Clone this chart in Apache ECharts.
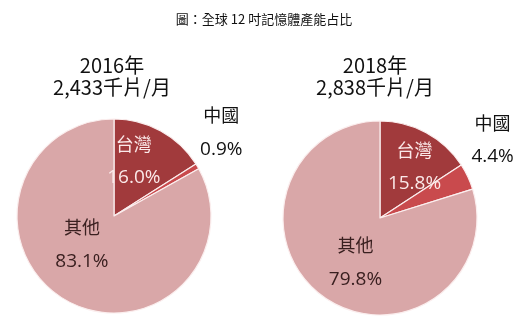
<!DOCTYPE html>
<html>
<head>
<meta charset="utf-8">
<script src="https://cdn.jsdelivr.net/npm/echarts@6/dist/echarts.min.js"></script>
<style>
  html, body { margin: 0; padding: 0; background: #ffffff; }
  #chart { width: 530px; height: 331px; }
</style>
</head>
<body>
<div id="chart"></div>
<script>
// Share of global 12-inch memory wafer capacity
const regions = ['台灣', '中國', '其他'];
const share2016 = [16.0, 0.9, 83.1];
const share2018 = [15.8, 4.4, 79.8];
const years = ['2016年', '2018年'];
const capacity = ['2,433千片/月', '2,838千片/月'];

const sliceColors = ['#a13a3c', '#c94a4d', '#d9a7a8'];
const labelColors = ['#fbe9e9', '#111111', '#3a2020'];
const CJK = '"Noto Sans CJK TC", "Noto Sans CJK SC", sans-serif';
const NUM = '"Open Sans", "Noto Sans CJK TC", sans-serif';

// label offsets relative to each slice's inside anchor
const offsets2016 = [[-5, -10], [63, -57], [-6, -16]];
const offsets2018 = [[10, -6], [66, -56], [6, 3]];

function buildData(values, offsets) {
  return regions.map((name, i) => ({
    name: name,
    value: values[i],
    itemStyle: { color: sliceColors[i] },
    label: {
      color: labelColors[i],
      offset: offsets[i]
    }
  }));
}

function pieSeries(values, offsets, center) {
  return {
    type: 'pie',
    center: center,
    radius: 97,
    startAngle: 90,
    clockwise: true,
    silent: true,
    animation: false,
    itemStyle: { borderColor: '#fbeeee', borderWidth: 1.2 },
    label: {
      show: true,
      position: 'inside',
      lineHeight: 34,
      formatter: p => '{n|' + p.name + '}\n{v|' + p.value.toFixed(1) + '%}',
      rich: {
        n: { fontFamily: CJK, fontSize: 18, lineHeight: 34 },
        v: { fontFamily: NUM, fontSize: 19, lineHeight: 34 }
      }
    },
    labelLine: { show: false },
    data: buildData(values, offsets)
  };
}

const chart = echarts.init(document.getElementById('chart'));
chart.setOption({
  backgroundColor: '#ffffff',
  title: [
    {
      text: '圖：全球 12 吋記憶體產能占比',
      left: 259, top: 8, textAlign: 'center',
      textStyle: { fontFamily: CJK, fontSize: 13, fontWeight: 'normal', color: '#111' }
    },
    {
      text: years[0] + '\n' + capacity[0],
      left: 107, top: 49, textAlign: 'center',
      textStyle: { fontFamily: CJK, fontSize: 20, lineHeight: 22, fontWeight: 'normal', color: '#111' }
    },
    {
      text: years[1] + '\n' + capacity[1],
      left: 370, top: 49, textAlign: 'center',
      textStyle: { fontFamily: CJK, fontSize: 20, lineHeight: 22, fontWeight: 'normal', color: '#111' }
    }
  ],
  series: [
    pieSeries(share2016, offsets2016, [114, 216]),
    pieSeries(share2018, offsets2018, [380, 218])
  ]
});
</script>
</body>
</html>
